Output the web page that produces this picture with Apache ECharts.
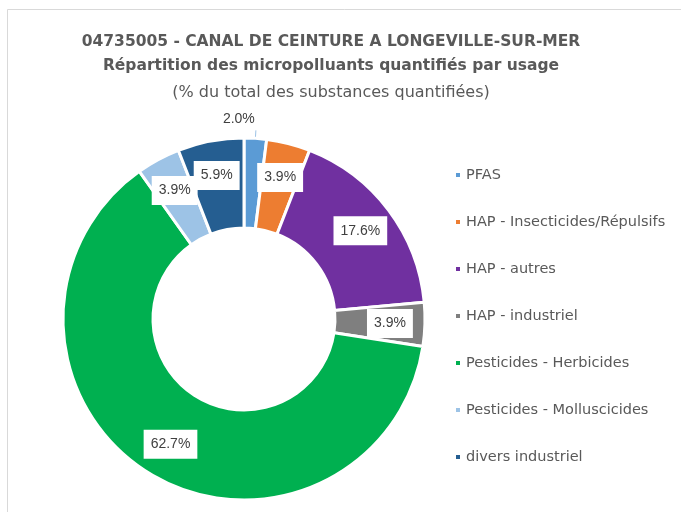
<!DOCTYPE html>
<html>
<head>
<meta charset="utf-8">
<script src="https://cdn.jsdelivr.net/npm/echarts@6/dist/echarts.min.js"></script>
<style>
  html, body { margin: 0; padding: 0; background: #fff; }
  #chart { width: 681px; height: 512px; }
</style>
</head>
<body>
<div id="chart"></div>
<script>
const categories = [
  'PFAS',
  'HAP - Insecticides/Répulsifs',
  'HAP - autres',
  'HAP - industriel',
  'Pesticides - Herbicides',
  'Pesticides - Molluscicides',
  'divers industriel'
];
const shares = [2.0, 3.9, 17.6, 3.9, 62.7, 3.9, 5.9];
const colors = ['#5B9BD5', '#ED7D31', '#7030A0', '#7F7F7F', '#00B050', '#9DC3E6', '#255E91'];
const titleLines = [
  '04735005 - CANAL DE CEINTURE A LONGEVILLE-SUR-MER',
  'Répartition des micropolluants quantifiés par usage',
  '(% du total des substances quantifiées)'
];

const pieCenter = [244, 319];

const chart = echarts.init(document.getElementById('chart'));

const pieData = categories.map((name, i) => {
  const item = { name: name, value: shares[i], itemStyle: { color: colors[i] } };
  if (i === 0) {
    // the thin slice gets its label above the ring
    item.label = { position: 'outside', backgroundColor: 'transparent', padding: 0 };
    item.labelLine = { show: true, length: 8, length2: 0, lineStyle: { color: '#9DC3E6', width: 1 } };
  }
  return item;
});

const option = {
  backgroundColor: '#fff',
  animation: false,
  title: [
    { text: titleLines[0], left: 326, top: 29, textAlign: 'center',
      textStyle: { fontFamily: 'DejaVu Sans', fontSize: 15.5, fontWeight: 'bold', color: '#595959' } },
    { text: titleLines[1], left: 326, top: 53, textAlign: 'center',
      textStyle: { fontFamily: 'DejaVu Sans', fontSize: 15.5, fontWeight: 'bold', color: '#595959' } },
    { text: titleLines[2], left: 326, top: 80, textAlign: 'center',
      textStyle: { fontFamily: 'DejaVu Sans', fontSize: 16, fontWeight: 'normal', color: '#595959' } }
  ],
  graphic: [{
    type: 'rect',
    shape: { x: 7.5, y: 9.5, width: 700, height: 520 },
    style: { fill: 'none', stroke: '#D9D9D9', lineWidth: 1 },
    silent: true
  }],
  legend: {
    orient: 'vertical',
    left: 449,
    top: 162,
    itemWidth: 6,
    itemHeight: 6,
    itemGap: 31,
    icon: 'rect',
    data: categories,
    textStyle: { fontFamily: 'DejaVu Sans', fontSize: 14.5, lineHeight: 16, color: '#595959' }
  },
  series: [{
    type: 'pie',
    center: pieCenter,
    radius: [91, 181],
    startAngle: 90,
    clockwise: true,
    avoidLabelOverlap: false,
    itemStyle: { borderColor: '#fff', borderWidth: 3 },
    label: {
      show: true,
      position: 'inside',
      formatter: p => p.value.toFixed(1) + '%',
      fontFamily: 'Liberation Sans',
      fontSize: 14,
      color: '#404040',
      backgroundColor: '#fff',
      padding: [8, 7, 7, 7]
    },
    labelLayout: function (p) {
      if (p.dataIndex === 0) {
        return { dx: -38, dy: -11 };
      }
      // push inside labels a little outward, like the original
      const cx = p.rect.x + p.rect.width / 2 - pieCenter[0];
      const cy = p.rect.y + p.rect.height / 2 - pieCenter[1];
      const len = Math.sqrt(cx * cx + cy * cy) || 1;
      return { dx: cx / len * 7, dy: cy / len * 7 };
    },
    data: pieData
  }]
};

chart.setOption(option);
</script>
</body>
</html>
